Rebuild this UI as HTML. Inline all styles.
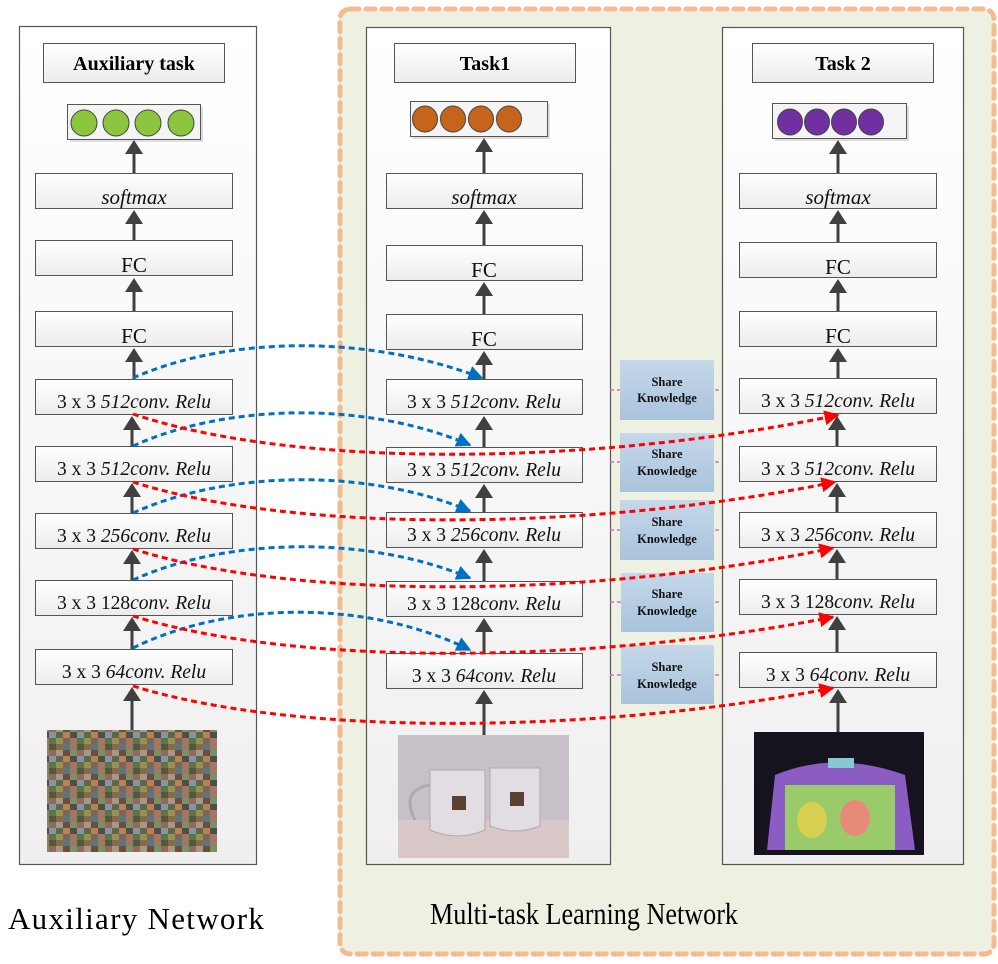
<!DOCTYPE html>
<html><head><meta charset="utf-8"><style>html,body{margin:0;padding:0;background:#fff}svg{display:block}</style></head>
<body>
<svg width="998" height="964" viewBox="0 0 998 964" xmlns="http://www.w3.org/2000/svg" font-family="Liberation Serif, serif">
<defs>
<linearGradient id="bx" x1="0" y1="0" x2="0" y2="1"><stop offset="0" stop-color="#ffffff"/><stop offset="1" stop-color="#ececec"/></linearGradient>
<linearGradient id="pn" x1="0" y1="0" x2="0" y2="1"><stop offset="0" stop-color="#ffffff"/><stop offset="1" stop-color="#efefef"/></linearGradient>
<linearGradient id="sk" x1="0" y1="0" x2="0" y2="1"><stop offset="0" stop-color="#c5d8ea"/><stop offset="1" stop-color="#a9c3dc"/></linearGradient>
<pattern id="mos" width="28" height="24" patternUnits="userSpaceOnUse">
<rect width="7" height="6" fill="#8a6a4a"/><rect x="7" width="7" height="6" fill="#5a7a8a"/><rect x="14" width="7" height="6" fill="#a08060"/><rect x="21" width="7" height="6" fill="#4a5a3a"/>
<rect y="6" width="7" height="6" fill="#b0a090"/><rect x="7" y="6" width="7" height="6" fill="#6a4a3a"/><rect x="14" y="6" width="7" height="6" fill="#7a9a6a"/><rect x="21" y="6" width="7" height="6" fill="#9a6a5a"/>
<rect y="12" width="7" height="6" fill="#5a6a4a"/><rect x="7" y="12" width="7" height="6" fill="#c08a5a"/><rect x="14" y="12" width="7" height="6" fill="#4a4a4a"/><rect x="21" y="12" width="7" height="6" fill="#8aa0b0"/>
<rect y="18" width="7" height="6" fill="#a09a50"/><rect x="7" y="18" width="7" height="6" fill="#7a6a5a"/><rect x="14" y="18" width="7" height="6" fill="#b07a6a"/><rect x="21" y="18" width="7" height="6" fill="#5a7a4a"/>
</pattern>
<marker id="ab" viewBox="0 0 10 10" refX="9" refY="5" markerWidth="5" markerHeight="5" orient="auto"><path d="M0,0 L10,5 L0,10z" fill="#0070c0"/></marker>
<marker id="ar" viewBox="0 0 10 10" refX="9" refY="5" markerWidth="5" markerHeight="5" orient="auto"><path d="M0,0 L10,5 L0,10z" fill="#ff0000"/></marker>
</defs>

<rect x="340" y="9" width="654" height="945" rx="10" fill="#eef0e1" stroke="#f4bb8e" stroke-width="5" stroke-dasharray="9,7" stroke-linecap="round"/>

<rect x="19.5" y="26.5" width="237" height="838" fill="url(#pn)" stroke="#555" stroke-width="1.2"/>
<rect x="366.5" y="27.5" width="244" height="837" fill="url(#pn)" stroke="#555" stroke-width="1.2"/>
<rect x="722.5" y="27.5" width="241" height="837" fill="url(#pn)" stroke="#555" stroke-width="1.2"/>

<g stroke="#d070c8" stroke-width="1.5" stroke-dasharray="4,3">
<line x1="610" y1="390" x2="722" y2="390"/><line x1="610" y1="462" x2="722" y2="462"/><line x1="610" y1="530" x2="722" y2="530"/><line x1="610" y1="602" x2="722" y2="602"/><line x1="610" y1="675" x2="722" y2="675"/>
</g>
<g fill="url(#sk)">
<rect x="620" y="360" width="94" height="60"/><rect x="620" y="433" width="94" height="59"/><rect x="620" y="500" width="94" height="60"/><rect x="621" y="573" width="93" height="59"/><rect x="621" y="645" width="93" height="59"/>
</g>
<g font-size="12.5" font-weight="bold" text-anchor="middle" fill="#111">
<text x="667" y="386">Share</text><text x="667" y="402">Knowledge</text>
<text x="667" y="458">Share</text><text x="667" y="475">Knowledge</text>
<text x="667" y="526">Share</text><text x="667" y="543">Knowledge</text>
<text x="667" y="598">Share</text><text x="667" y="615">Knowledge</text>
<text x="667" y="671">Share</text><text x="667" y="688">Knowledge</text>
</g>

<g fill="url(#bx)" stroke="#555" stroke-width="1">
<rect x="43.5" y="43.5" width="181" height="39"/>
<rect x="35.5" y="173.5" width="197" height="35"/><rect x="35.5" y="240.5" width="197" height="35"/><rect x="35.5" y="311.5" width="197" height="35"/>
<rect x="35.5" y="379.5" width="197" height="35"/><rect x="35.5" y="446.5" width="197" height="35"/><rect x="35.5" y="513.5" width="197" height="35"/><rect x="35.5" y="580.5" width="197" height="35"/><rect x="35.5" y="649.5" width="197" height="35"/>
<rect x="394.5" y="43.5" width="181" height="39"/>
<rect x="386.5" y="173.5" width="196" height="35"/><rect x="386.5" y="245.5" width="196" height="35"/><rect x="386.5" y="314.5" width="196" height="35"/>
<rect x="386.5" y="379.5" width="196" height="35"/><rect x="386.5" y="447.5" width="196" height="35"/><rect x="386.5" y="512.5" width="196" height="35"/><rect x="386.5" y="581.5" width="196" height="35"/><rect x="386.5" y="653.5" width="196" height="35"/>
<rect x="752.5" y="43.5" width="181" height="39"/>
<rect x="739.5" y="173.5" width="197" height="35"/><rect x="739.5" y="242.5" width="197" height="35"/><rect x="739.5" y="311.5" width="197" height="35"/>
<rect x="739.5" y="378.5" width="197" height="35"/><rect x="739.5" y="446.5" width="197" height="35"/><rect x="739.5" y="512.5" width="197" height="35"/><rect x="739.5" y="579.5" width="197" height="35"/><rect x="739.5" y="652.5" width="197" height="35"/>
</g>
<g stroke="#555" stroke-width="1">
<rect x="70" y="107" width="133" height="35" fill="#ddd" stroke="none"/>
<rect x="67.5" y="104.5" width="133" height="35" fill="#f4f4f4"/>
<rect x="413" y="104" width="137" height="35" fill="#ddd" stroke="none"/>
<rect x="410.5" y="101.5" width="137" height="35" fill="#f4f4f4"/>
<rect x="775" y="106" width="134" height="35" fill="#ddd" stroke="none"/>
<rect x="772.5" y="103.5" width="134" height="35" fill="#f4f4f4"/>
</g>
<g stroke="#444" stroke-width="1">
<g fill="#8cc63f"><circle cx="84" cy="123" r="13"/><circle cx="116" cy="123" r="13"/><circle cx="148" cy="123" r="13"/><circle cx="181" cy="123" r="13"/></g>
<g fill="#c5651b"><ellipse cx="425" cy="119" rx="12.5" ry="13"/><ellipse cx="453" cy="119" rx="12.5" ry="13"/><ellipse cx="481" cy="119" rx="12.5" ry="13"/><ellipse cx="509" cy="119" rx="12.5" ry="13"/></g>
<g fill="#7030a0"><ellipse cx="790" cy="122" rx="12.5" ry="13"/><ellipse cx="817" cy="122" rx="12.5" ry="13"/><ellipse cx="844" cy="122" rx="12.5" ry="13"/><ellipse cx="871" cy="122" rx="12.5" ry="13"/></g>
</g>

<g font-weight="bold" font-size="20" text-anchor="middle" fill="#000">
<text x="134" y="70">Auxiliary  task</text><text x="485" y="70">Task1</text><text x="843" y="70">Task 2</text>
</g>
<g font-size="21" text-anchor="middle" fill="#111">
<text x="134" y="204" font-style="italic">softmax</text><text x="134" y="272">FC</text><text x="134" y="343">FC</text>
<text x="484" y="204" font-style="italic">softmax</text><text x="484" y="277">FC</text><text x="484" y="346">FC</text>
<text x="838" y="204" font-style="italic">softmax</text><text x="838" y="274">FC</text><text x="838" y="343">FC</text>
</g>
<g font-size="19.5" text-anchor="middle" fill="#111">
<text x="134" y="408">3 x 3 <tspan font-style="italic">512conv. Relu</tspan></text>
<text x="134" y="475">3 x 3 <tspan font-style="italic">512conv. Relu</tspan></text>
<text x="134" y="542">3 x 3 <tspan font-style="italic">256conv. Relu</tspan></text>
<text x="134" y="609">3 x 3 128<tspan font-style="italic">conv. Relu</tspan></text>
<text x="134" y="678">3 x 3 <tspan font-style="italic">64conv. Relu</tspan></text>
<text x="484" y="408">3 x 3 <tspan font-style="italic">512conv. Relu</tspan></text>
<text x="484" y="476">3 x 3 <tspan font-style="italic">512conv. Relu</tspan></text>
<text x="484" y="541">3 x 3 <tspan font-style="italic">256conv. Relu</tspan></text>
<text x="484" y="610">3 x 3 128<tspan font-style="italic">conv. Relu</tspan></text>
<text x="484" y="682">3 x 3 <tspan font-style="italic">64conv. Relu</tspan></text>
<text x="838" y="407">3 x 3 <tspan font-style="italic">512conv. Relu</tspan></text>
<text x="838" y="475">3 x 3 <tspan font-style="italic">512conv. Relu</tspan></text>
<text x="838" y="541">3 x 3 <tspan font-style="italic">256conv. Relu</tspan></text>
<text x="838" y="608">3 x 3 128<tspan font-style="italic">conv. Relu</tspan></text>
<text x="838" y="681">3 x 3 <tspan font-style="italic">64conv. Relu</tspan></text>
</g>

<g stroke="#404040" stroke-width="3">
<line x1="134" y1="173" x2="134" y2="150"/><line x1="134" y1="240" x2="134" y2="220"/><line x1="134" y1="311" x2="134" y2="288"/><line x1="134" y1="379" x2="134" y2="358"/><line x1="132" y1="446" x2="132" y2="426"/><line x1="132" y1="513" x2="132" y2="493"/><line x1="132" y1="580" x2="132" y2="560"/><line x1="132" y1="649" x2="132" y2="627"/><line x1="132" y1="730" x2="132" y2="697"/>
<line x1="484" y1="173" x2="484" y2="148"/><line x1="484" y1="245" x2="484" y2="220"/><line x1="484" y1="314" x2="484" y2="292"/><line x1="484" y1="379" x2="484" y2="361"/><line x1="484" y1="447" x2="484" y2="426"/><line x1="484" y1="512" x2="484" y2="494"/><line x1="484" y1="581" x2="484" y2="559"/><line x1="484" y1="653" x2="484" y2="628"/><line x1="484" y1="735" x2="484" y2="700"/>
<line x1="838" y1="173" x2="838" y2="150"/><line x1="838" y1="242" x2="838" y2="220"/><line x1="838" y1="311" x2="838" y2="289"/><line x1="838" y1="378" x2="838" y2="358"/><line x1="837" y1="446" x2="837" y2="426"/><line x1="837" y1="512" x2="837" y2="493"/><line x1="837" y1="579" x2="837" y2="559"/><line x1="837" y1="652" x2="837" y2="626"/><line x1="838" y1="732" x2="838" y2="699"/>
</g>
<g fill="#404040">
<path d="M134,140 l-9,14 h18z"/><path d="M134,210 l-9,14 h18z"/><path d="M134,278 l-9,14 h18z"/><path d="M134,348 l-9,14 h18z"/><path d="M132,416 l-9,14 h18z"/><path d="M132,483 l-9,14 h18z"/><path d="M132,550 l-9,14 h18z"/><path d="M132,617 l-9,14 h18z"/><path d="M132,687 l-9,14 h18z"/>
<path d="M484,138 l-9,14 h18z"/><path d="M484,210 l-9,14 h18z"/><path d="M484,282 l-9,14 h18z"/><path d="M484,351 l-9,14 h18z"/><path d="M484,416 l-9,14 h18z"/><path d="M484,484 l-9,14 h18z"/><path d="M484,549 l-9,14 h18z"/><path d="M484,618 l-9,14 h18z"/><path d="M484,690 l-9,14 h18z"/>
<path d="M838,140 l-9,14 h18z"/><path d="M838,210 l-9,14 h18z"/><path d="M838,279 l-9,14 h18z"/><path d="M838,348 l-9,14 h18z"/><path d="M837,416 l-9,14 h18z"/><path d="M837,483 l-9,14 h18z"/><path d="M837,549 l-9,14 h18z"/><path d="M837,616 l-9,14 h18z"/><path d="M838,689 l-9,14 h18z"/>
</g>

<rect x="47" y="730" width="170" height="122" fill="url(#mos)"/>
<rect x="47" y="730" width="170" height="122" fill="#706050" opacity="0.15"/>
<rect x="398" y="735" width="171" height="123" fill="#c8c0c8"/>
<rect x="398" y="820" width="171" height="38" fill="#d8c8c8"/>
<path d="M430,770 h55 v60 q-27,12 -55,0z" fill="#e2dde2" stroke="#b0a8b0"/>
<path d="M490,768 h50 v58 q-25,10 -50,0z" fill="#e2dde2" stroke="#b0a8b0"/>
<path d="M430,785 q-30,5 -15,35" fill="none" stroke="#b0a8b0" stroke-width="3"/>
<rect x="452" y="796" width="14" height="14" fill="#5a4030"/><rect x="510" y="792" width="14" height="14" fill="#5a4030"/>
<rect x="754" y="732" width="170" height="123" fill="#16121e"/>
<path d="M775,775 q60,-25 130,0 l10,75 h-148z" fill="#8a5cc4"/>
<rect x="785" y="785" width="110" height="65" fill="#9acb6a"/>
<ellipse cx="812" cy="820" rx="15" ry="18" fill="#d8d050"/><ellipse cx="855" cy="818" rx="15" ry="18" fill="#e88a7a"/>
<rect x="828" y="758" width="26" height="10" fill="#88c8d0"/>

<g fill="none" stroke="#0070c0" stroke-width="3" stroke-dasharray="6,4" marker-end="url(#ab)">
<path d="M133,378 C230,335 370,335 482,378"/>
<path d="M133,446 C230,402 370,402 470,445"/>
<path d="M133,513 C230,469 370,469 470,511"/>
<path d="M133,580 C230,536 370,536 470,578"/>
<path d="M133,648 C230,600 370,600 470,650"/>
</g>
<g fill="none" stroke="#ff0000" stroke-width="3" stroke-dasharray="6,4" marker-end="url(#ar)">
<path d="M133,414 C300,470 600,465 838,415"/>
<path d="M133,482 C300,535 600,530 835,482"/>
<path d="M133,549 C300,602 600,597 833,548"/>
<path d="M133,616 C300,668 600,663 833,617"/>
<path d="M133,686 C300,738 600,733 833,688"/>
</g>

<text x="8" y="929" font-size="31" letter-spacing="1.3" fill="#000">Auxiliary  Network</text>
<text x="430" y="924" font-size="31" textLength="308" lengthAdjust="spacingAndGlyphs" fill="#000">Multi-task Learning Network</text>
</svg>
</body></html>
